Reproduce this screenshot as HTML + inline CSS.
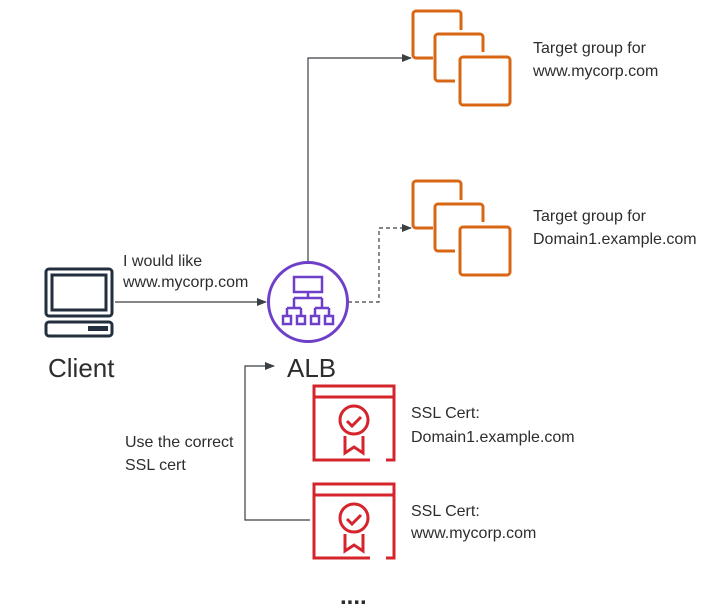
<!DOCTYPE html>
<html><head><meta charset="utf-8"><style>
body{margin:0;background:#fff;}
svg{display:block;}
text{font-family:"Liberation Sans",sans-serif;fill:#2d2d2d;}
</style></head><body>
<svg width="717" height="611" viewBox="0 0 717 611" xmlns="http://www.w3.org/2000/svg">
<defs>
<marker id="ar" markerWidth="10" markerHeight="8" refX="9" refY="4" orient="auto" markerUnits="userSpaceOnUse">
<path d="M0,0 L10,4 L0,8 Z" fill="#3a3f44"/></marker>
<g id="grp" fill="none" stroke="#d86613" stroke-width="3" stroke-linejoin="round">
<path d="M433,58 H416 a3,3 0 0 1 -3,-3 V14 a3,3 0 0 1 3,-3 H458 a3,3 0 0 1 3,3 V30"/>
<path d="M455,81 H438 a3,3 0 0 1 -3,-3 V37 a3,3 0 0 1 3,-3 H480 a3,3 0 0 1 3,3 V52"/>
<rect x="460" y="57" width="50" height="48" rx="3"/>
</g>
<g id="cert" fill="none" stroke="#d6242d" stroke-width="3">
<path d="M370,460 H314 V386 H394 V460 H386"/>
<line x1="314" y1="397" x2="394" y2="397"/>
<circle cx="354" cy="420" r="14"/>
<path d="M347,421 l5,5 l9,-9"/>
<path d="M345,436 V453 L354,447 L363,453 V436"/>
</g>
</defs>

<path d="M308,262 V58 H411" fill="none" stroke="#3a3f44" stroke-width="1.2" marker-end="url(#ar)"/>
<path d="M348,302 H379 V228 H411" fill="none" stroke="#3a3f44" stroke-width="1.2" stroke-dasharray="4,3" marker-end="url(#ar)"/>
<path d="M115,302 H266" fill="none" stroke="#3a3f44" stroke-width="1.2" marker-end="url(#ar)"/>
<path d="M310,520 H245 V366 H274" fill="none" stroke="#3a3f44" stroke-width="1.2" marker-end="url(#ar)"/>

<use href="#grp"/>
<use href="#grp" transform="translate(0,170)"/>

<circle cx="308" cy="302" r="39.5" fill="#fff" stroke="#6e3fc9" stroke-width="3"/>
<g fill="none" stroke="#6e3fc9" stroke-width="2.5">
<rect x="294" y="277" width="28" height="15"/>
<path d="M308,292 V298 M294,298 H322 M294,298 V308 M322,298 V308 M287,308 H301 M315,308 H329 M287,308 V316 M301,308 V316 M315,308 V316 M329,308 V316"/>
<rect x="283" y="316" width="8" height="8"/><rect x="297" y="316" width="8" height="8"/>
<rect x="311" y="316" width="8" height="8"/><rect x="325" y="316" width="8" height="8"/>
</g>

<g fill="none" stroke="#232f3e" stroke-width="3">
<rect x="46" y="269" width="66" height="47" rx="3"/>
<rect x="52" y="275" width="54" height="35"/>
<rect x="46" y="322" width="66" height="14" rx="3"/>
</g>
<rect x="88" y="326" width="20" height="5" fill="#232f3e"/>

<use href="#cert"/>
<use href="#cert" transform="translate(0,98)"/>

<text x="48" y="377" font-size="26">Client</text>
<text x="287" y="377" font-size="26">ALB</text>
<g font-size="16">
<text x="123" y="266">I would like</text>
<text x="123" y="287">www.mycorp.com</text>
<text x="533" y="53">Target group for</text>
<text x="533" y="76">www.mycorp.com</text>
<text x="533" y="221">Target group for</text>
<text x="533" y="244">Domain1.example.com</text>
<text x="411" y="418">SSL Cert:</text>
<text x="411" y="442">Domain1.example.com</text>
<text x="411" y="516">SSL Cert:</text>
<text x="411" y="538">www.mycorp.com</text>
<text x="125" y="447">Use the correct</text>
<text x="125" y="470">SSL cert</text>
</g>
<text x="340" y="604" font-size="24" font-weight="bold">....</text>
</svg>
</body></html>
